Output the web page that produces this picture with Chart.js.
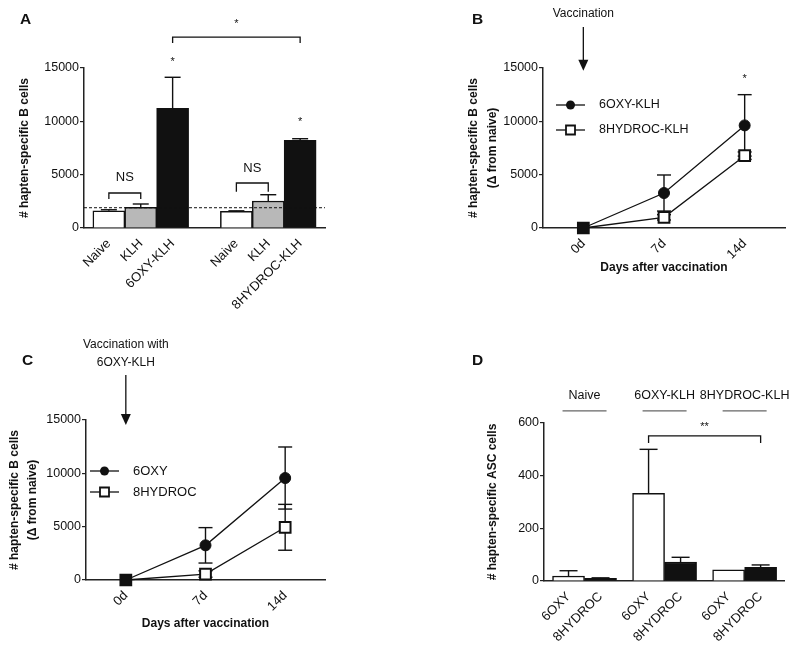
<!DOCTYPE html>
<html>
<head>
<meta charset="utf-8">
<script src="https://cdn.jsdelivr.net/npm/chart.js@4.4.1/dist/chart.umd.min.js"></script>
<style>
  body { margin: 0; background: #fff; }
  #wrap { position: relative; width: 800px; height: 647px; }
  canvas { position: absolute; }
</style>
</head>
<body>
<div id="wrap">
  <canvas id="panelA" width="400" height="323" style="left:0;top:0"></canvas>
  <canvas id="panelB" width="400" height="323" style="left:400px;top:0"></canvas>
  <canvas id="panelC" width="400" height="324" style="left:0;top:323px"></canvas>
  <canvas id="panelD" width="400" height="324" style="left:400px;top:323px"></canvas>
</div>
<script>
// ---- panel A: hapten-specific B cells per group
const aLabels = ["Naive", "KLH", "6OXY-KLH", "Naive", "KLH", "8HYDROC-KLH"];
const aPos = [1, 2, 3, 5, 6, 7];
const aMeans = [1620, 1940, 11220, 1560, 2530, 8220];
const aErr = [90, 310, 2910, 50, 590, 150];
const aCutoff = 1900;
const aColors = ["#fff", "#b8b8b8", "#111", "#fff", "#b8b8b8", "#111"];

// ---- panels B and C: time course
const days = ["0d", "7d", "14d"];
const bOxy = [0, 3280, 9620];
const bOxyErr = [0, 1690, 2880];
const bHyd = [0, 1000, 6780];
const bHydErr = [0, 250, 350];

const cOxy = [0, 3250, 9560];
const cOxyErr = [0, 1660, 2910];
const cHyd = [0, 560, 4940];
const cHydErr = [0, 300, 2150];

// ---- panel D: ASC cells
const dGroups = ["Naive", "6OXY-KLH", "8HYDROC-KLH"];
const dLabels = ["6OXY", "8HYDROC", "6OXY", "8HYDROC", "6OXY", "8HYDROC"];
const dPos = [1, 2, 3.5, 4.5, 6, 7];
const dMeans = [19, 10, 333, 72, 42, 52];
const dErr = [20, 2, 167, 18, 0, 9];
const dColors = ["#fff", "#111", "#fff", "#111", "#fff", "#111"];

const FONT = "Arial, 'Liberation Sans', Helvetica, sans-serif";
const INK = "#111";
Chart.defaults.font.family = FONT;
Chart.defaults.color = INK;
Chart.defaults.animation = false;
Chart.defaults.events = [];
Chart.defaults.plugins.legend.display = false;
Chart.defaults.plugins.tooltip.enabled = false;

// drawing helpers
function drawText(ctx, str, x, y, size, opts = {}) {
  ctx.save();
  ctx.font = (opts.bold ? "bold " : "") + size + "px " + FONT;
  ctx.fillStyle = opts.color || INK;
  ctx.textAlign = opts.align || "center";
  ctx.textBaseline = opts.baseline || "middle";
  ctx.fillText(str, x, y);
  ctx.restore();
}
function drawPath(ctx, pts, width, color, dash) {
  ctx.save();
  ctx.beginPath();
  ctx.lineWidth = width;
  ctx.strokeStyle = color || INK;
  if (dash) ctx.setLineDash(dash);
  pts.forEach((p, i) => (i ? ctx.lineTo(p[0], p[1]) : ctx.moveTo(p[0], p[1])));
  ctx.stroke();
  ctx.restore();
}
function X(chart, v) { return chart.scales.x.getPixelForValue(v); }
function Y(chart, v) { return chart.scales.y.getPixelForValue(v); }

function bracket(chart, x1, x2, yTop, yLeg) {
  const a = X(chart, x1), b = X(chart, x2), t = Y(chart, yTop), l = Y(chart, yLeg);
  drawPath(chart.ctx, [[a, l], [a, t], [b, t], [b, l]], 1.3);
}
function star(chart, str, xv, yv) {
  // glyph sits high in the em box, so shift the baseline down
  drawText(chart.ctx, str, X(chart, xv), Y(chart, yv) + 6, 11, { baseline: "alphabetic" });
}
function errorBar(chart, xv, mean, err, cap, both) {
  if (!err) return;
  const ctx = chart.ctx, x = X(chart, xv);
  const top = Y(chart, mean + err);
  const bot = Y(chart, both ? mean - err : mean);
  drawPath(ctx, [[x, bot], [x, top]], 1.4);
  drawPath(ctx, [[x - cap / 2, top], [x + cap / 2, top]], 1.4);
  if (both) drawPath(ctx, [[x - cap / 2, bot], [x + cap / 2, bot]], 1.4);
}
function arrowDown(chart, xv, yFrom, yTo) {
  const ctx = chart.ctx, x = X(chart, xv), y1 = Y(chart, yFrom), y2 = Y(chart, yTo);
  drawPath(ctx, [[x, y1], [x, y2 - 8]], 1.3);
  ctx.save();
  ctx.fillStyle = INK;
  ctx.beginPath();
  ctx.moveTo(x - 5, y2 - 11);
  ctx.lineTo(x + 5, y2 - 11);
  ctx.lineTo(x, y2);
  ctx.closePath();
  ctx.fill();
  ctx.restore();
}
function legendRow(chart, dx, dy, label, style, size) {
  const ctx = chart.ctx, area = chart.chartArea;
  const x0 = area.left + dx, y = area.top + dy;
  drawPath(ctx, [[x0, y], [x0 + 29, y]], 1.3);
  ctx.save();
  ctx.beginPath();
  if (style === "circle") {
    ctx.arc(x0 + 14.5, y, 4.5, 0, Math.PI * 2);
    ctx.fillStyle = INK;
    ctx.fill();
  } else {
    ctx.rect(x0 + 10, y - 4.5, 9, 9);
    ctx.fillStyle = "#fff";
    ctx.fill();
    ctx.lineWidth = 1.8;
    ctx.strokeStyle = INK;
    ctx.stroke();
  }
  ctx.restore();
  drawText(ctx, label, x0 + 43, y, size, { align: "left" });
}

// shared axis settings
function yAxis(max, step, width, title, titlePad, lineHeight) {
  return {
    min: 0,
    max: max,
    ticks: { stepSize: step, padding: 1, font: { size: 12.5 }, callback: (v) => String(v) },
    grid: { drawOnChartArea: false, tickLength: 4, color: "#222", lineWidth: 1.2 },
    border: { color: "#222", width: 1.5 },
    title: {
      display: true,
      text: title,
      font: { size: 12, weight: "bold", lineHeight: lineHeight },
      padding: { top: titlePad, bottom: 0 },
    },
    afterFit: (s) => { s.width = width; },
  };
}
function xAxis(height, extra) {
  return Object.assign({
    offset: true,
    grid: { display: false, drawTicks: true, tickLength: 4 },
    border: { color: "#222", width: 1.5 },
    ticks: { autoSkip: false, maxRotation: 45, minRotation: 45, padding: 4, font: { size: 13 } },
    afterFit: (s) => { s.height = height; },
  }, extra);
}
const daysTitle = (pb) => ({
  display: true,
  text: "Days after vaccination",
  font: { size: 12, weight: "bold" },
  padding: { top: 0, bottom: pb },
});

// ---------- A ----------
const extrasA = {
  id: "extrasA",
  afterDatasetsDraw(chart) {
    const ctx = chart.ctx, area = chart.chartArea;
    aPos.forEach((p, i) => errorBar(chart, p, aMeans[i], aErr[i], 16, false));
    const yc = Y(chart, aCutoff);
    drawPath(ctx, [[area.left, yc], [area.right, yc]], 1, INK, [3, 2]);
  },
  afterDraw(chart) {
    const ctx = chart.ctx;
    bracket(chart, aPos[0], aPos[1], 3280, 2720);
    drawText(ctx, "NS", (X(chart, aPos[0]) + X(chart, aPos[1])) / 2, Y(chart, 4780), 13);
    bracket(chart, aPos[3], aPos[4], 4220, 3400);
    drawText(ctx, "NS", (X(chart, aPos[3]) + X(chart, aPos[4])) / 2, Y(chart, 5620), 13);
    star(chart, "*", aPos[2], 15840);
    star(chart, "*", aPos[5], 10220);
    bracket(chart, aPos[2], aPos[5], 17900, 17340);
    star(chart, "*", (aPos[2] + aPos[5]) / 2, 19400);
    drawText(ctx, "A", 20, 24, 15.5, { bold: true, align: "left", baseline: "alphabetic" });
  },
};
new Chart(document.getElementById("panelA"), {
  type: "bar",
  data: {
    datasets: [{
      data: aPos.map((x, i) => ({ x: x, y: aMeans[i] })),
      backgroundColor: aColors,
      borderColor: INK,
      borderWidth: 1.5,
      barThickness: 32,
    }],
  },
  options: {
    responsive: false,
    layout: { padding: { left: 0, top: 68, right: 75, bottom: 10 } },
    scales: {
      x: xAxis(85, {
        type: "linear",
        min: 0.22,
        max: 7.78,
        offset: false,
        afterBuildTicks: (s) => { s.ticks = aPos.map((v) => ({ value: v })); },
        ticks: { autoSkip: false, maxRotation: 45, minRotation: 45, padding: 4, font: { size: 13 },
                 callback: (v, i) => aLabels[i] },
      }),
      y: yAxis(15000, 5000, 84, "# hapten-specific B cells", 17.8, 1.2),
    },
  },
  plugins: [extrasA],
});

// ---------- B ----------
const extrasB = {
  id: "extrasB",
  beforeDatasetsDraw(chart) {
    days.forEach((d, i) => {
      errorBar(chart, i, bOxy[i], bOxyErr[i], 14, true);
      errorBar(chart, i, bHyd[i], bHydErr[i], 14, true);
    });
  },
  afterDraw(chart) {
    star(chart, "*", 2, 14250);
    drawText(chart.ctx, "Vaccination", X(chart, 0), Y(chart, 20060), 12);
    arrowDown(chart, 0, 18840, 14750);
    legendRow(chart, 13, 37, "6OXY-KLH", "circle", 12.5);
    legendRow(chart, 13, 62, "8HYDROC-KLH", "rect", 12.5);
    drawText(chart.ctx, "B", 72, 24, 15.5, { bold: true, align: "left", baseline: "alphabetic" });
  },
};
function lineSets(oxy, hyd, oxyLabel, hydLabel) {
  return [
    { label: hydLabel, data: hyd, borderColor: INK, borderWidth: 1.3, clip: false,
      pointStyle: "rect", pointRadius: 7.6, pointBorderWidth: 2, pointBorderColor: INK,
      pointBackgroundColor: ["#111", "#fff", "#fff"] },
    { label: oxyLabel, data: oxy, borderColor: INK, borderWidth: 1.3, clip: false,
      pointStyle: "circle", pointRadius: 5.5, pointBorderWidth: 1, pointBorderColor: INK,
      pointBackgroundColor: INK },
  ];
}
new Chart(document.getElementById("panelB"), {
  type: "line",
  data: { labels: days, datasets: lineSets(bOxy, bHyd, "6OXY-KLH", "8HYDROC-KLH") },
  options: {
    responsive: false,
    layout: { padding: { left: 0, top: 68, right: 15, bottom: 10 } },
    scales: {
      x: xAxis(85, { title: daysTitle(37.8) }),
      y: yAxis(15000, 5000, 143, ["# hapten-specific B cells", "(\u0394 from naive)"], 64.5, 1.58),
    },
  },
  plugins: [extrasB],
});

// ---------- C ----------
const extrasC = {
  id: "extrasC",
  beforeDatasetsDraw(chart) {
    days.forEach((d, i) => {
      errorBar(chart, i, cOxy[i], cOxyErr[i], 14, true);
      errorBar(chart, i, cHyd[i], cHydErr[i], 14, true);
    });
  },
  afterDraw(chart) {
    drawText(chart.ctx, "Vaccination with", X(chart, 0), Y(chart, 22030), 12);
    drawText(chart.ctx, "6OXY-KLH", X(chart, 0), Y(chart, 20340), 12);
    arrowDown(chart, 0, 19220, 14530);
    legendRow(chart, 4, 51, "6OXY", "circle", 13);
    legendRow(chart, 4, 72, "8HYDROC", "rect", 13);
    drawText(chart.ctx, "C", 22, 42, 15.5, { bold: true, align: "left", baseline: "alphabetic" });
  },
};
new Chart(document.getElementById("panelC"), {
  type: "line",
  data: { labels: days, datasets: lineSets(cOxy, cHyd, "6OXY", "8HYDROC") },
  options: {
    responsive: false,
    layout: { padding: { left: 0, top: 97, right: 75, bottom: 7 } },
    scales: {
      x: xAxis(60, { title: daysTitle(8.8) }),
      y: yAxis(15000, 5000, 86, ["# hapten-specific B cells", "(\u0394 from naive)"], 6, 1.5),
    },
  },
  plugins: [extrasC],
});

// ---------- D ----------
const extrasD = {
  id: "extrasD",
  afterDatasetsDraw(chart) {
    dPos.forEach((p, i) => errorBar(chart, p, dMeans[i], dErr[i], 18, false));
  },
  afterDraw(chart) {
    const ctx = chart.ctx;
    dGroups.forEach((g, i) => {
      const xc = (X(chart, dPos[2 * i]) + X(chart, dPos[2 * i + 1])) / 2;
      drawText(ctx, g, xc, Y(chart, 706), 12.5);
      const yl = Y(chart, 646);
      drawPath(ctx, [[xc - 22, yl], [xc + 22, yl]], 1.2, "#666");
    });
    bracket(chart, dPos[2], dPos[5], 551, 524);
    star(chart, "**", (dPos[2] + dPos[5]) / 2, 598);
    drawText(ctx, "D", 72, 42, 15.5, { bold: true, align: "left", baseline: "alphabetic" });
  },
};
new Chart(document.getElementById("panelD"), {
  type: "bar",
  data: {
    datasets: [{
      data: dPos.map((x, i) => ({ x: x, y: dMeans[i] })),
      backgroundColor: dColors,
      borderColor: INK,
      borderWidth: 1.5,
      barThickness: 32,
    }],
  },
  options: {
    responsive: false,
    layout: { padding: { left: 0, top: 100, right: 16, bottom: 6 } },
    scales: {
      x: xAxis(60, {
        type: "linear",
        min: 0.234,
        max: 7.73,
        offset: false,
        afterBuildTicks: (s) => { s.ticks = dPos.map((v) => ({ value: v })); },
        ticks: { autoSkip: false, maxRotation: 45, minRotation: 45, padding: 4, font: { size: 13 },
                 callback: (v, i) => dLabels[i] },
      }),
      y: yAxis(600, 200, 144, "# hapten-specific ASC cells", 85.5, 1.2),
    },
  },
  plugins: [extrasD],
});
</script>
</body>
</html>
